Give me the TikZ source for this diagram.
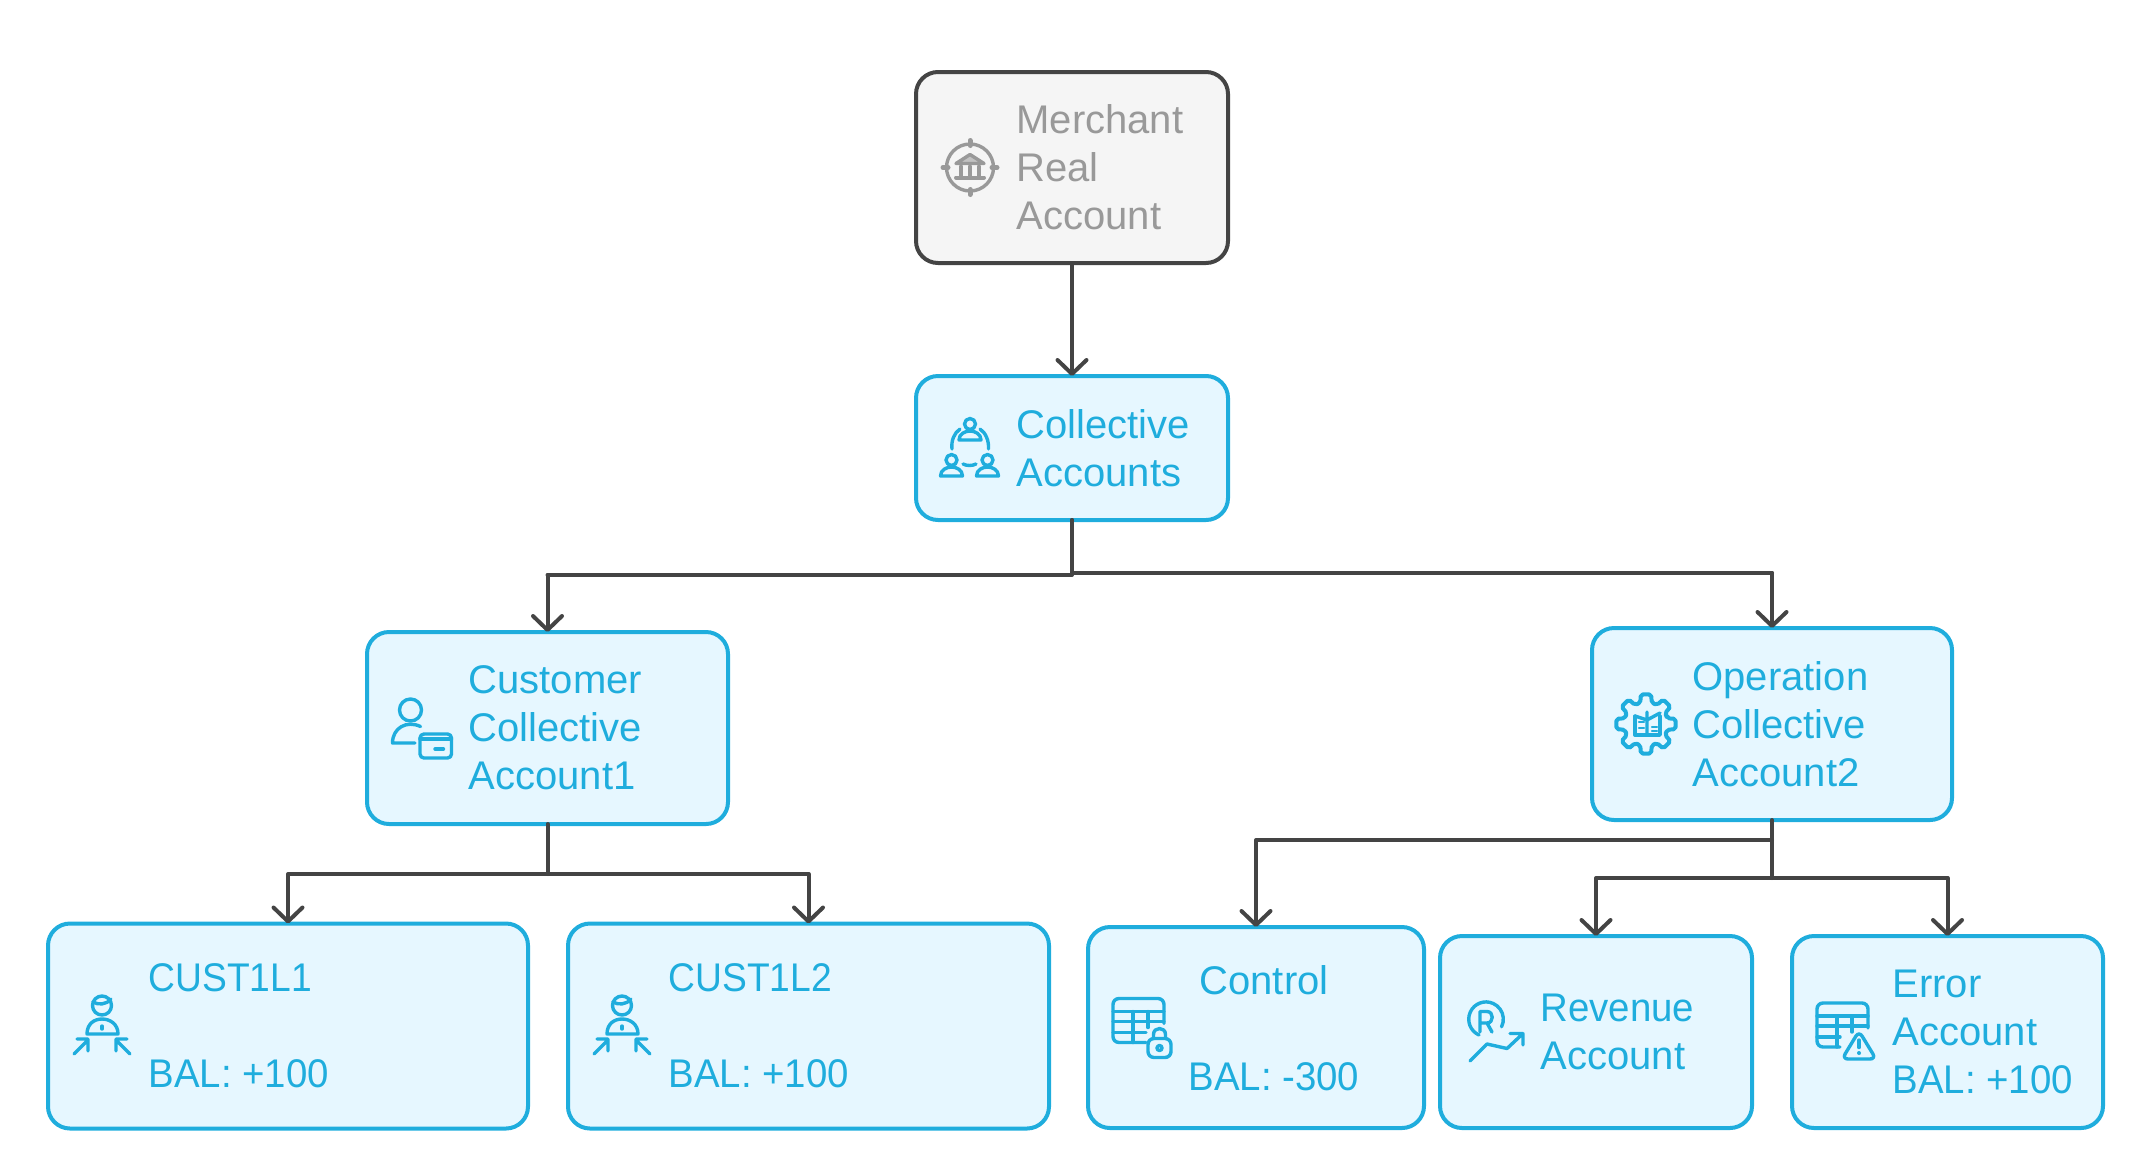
\documentclass[tikz,border=0pt]{standalone}
\usepackage{fontspec}
\setmainfont{Liberation Sans}
\newfontfamily\slimfont[FakeStretch=0.96]{Liberation Sans}
\newfontfamily\capsfont[FakeStretch=0.93]{Liberation Sans}
\usetikzlibrary{arrows.meta}
\usetikzlibrary{positioning}
\definecolor{acctblue}{HTML}{1FADDD}
\definecolor{acctfill}{HTML}{E6F7FF}
\definecolor{realgrey}{HTML}{999999}
\definecolor{realfill}{HTML}{F5F5F5}
\definecolor{linkgrey}{HTML}{444444}
\tikzset{
acctbox/.style = {rectangle, rounded corners=11pt, draw=acctblue, fill=acctfill,
                  line width=2pt, inner sep=0pt, outer sep=0pt},
realbox/.style = {acctbox, draw=linkgrey, fill=realfill},
accttext/.style = {align=left, inner sep=0pt, outer sep=0pt, text=acctblue, yshift=-3.6pt,
                   font=\fontsize{20}{24}\selectfont,
                   execute at begin node=\strut, execute at end node=\strut},
realtext/.style = {accttext, text=realgrey},
link/.style = {draw=linkgrey, line width=2pt, line cap=round, line join=round,
               -{Straight Barb[length=7pt,width=14.5pt,line width=2pt,round]}},
stub/.style = {draw=linkgrey, line width=2pt, line cap=round, line join=round},
iconline/.style = {draw=acctblue, line width=1.7pt, line cap=round, line join=round},
greyline/.style = {iconline, draw=realgrey},
}
% icons, drawn around their centre
\tikzset{
bankicon/.pic = {
    \draw[greyline] (0,0) circle (23.5);
    \draw[greyline, line width=2.5pt] (0,-27) -- (0,-22) (0,22) -- (0,27) (-27,0) -- (-22,0) (22,0) -- (27,0);
    \draw[greyline, fill=realgrey!60] (0,-13) -- (14,-4) -- (-14,-4) -- cycle;
    \draw[greyline, line width=2pt] (-9,-1) -- (-9,8) (0,-1) -- (0,8) (9,-1) -- (9,8);
    \draw[greyline, line width=2pt] (-14,10) -- (14,10);
},
dome/.pic = {
    \draw[iconline] (-11,0) .. controls (-11,-6) and (-5,-9) .. (0,-9)
                    .. controls (5,-9) and (11,-6) .. (11,0) -- cycle;
    \draw[iconline] (0,-16) circle (5.5);
},
groupicon/.pic = {
    \path (0,-8) pic {dome} (-18.5,28) pic {dome} (17.5,28) pic {dome};
    \draw[iconline] (-10,-19) .. controls (-16,-15) and (-19,-7) .. (-18,1);
    \draw[iconline] (10,-19) .. controls (16,-15) and (19,-7) .. (18.5,1);
    \draw[iconline] (-7,16) .. controls (-3,18) and (2,18) .. (6,16);
},
cardicon/.pic = {
    \draw[iconline] (-12,-18) circle (11);
    \draw[iconline] (-2,-1.5) .. controls (-16,-8) and (-30,0) .. (-30,15) -- (-7.5,15);
    \draw[iconline, rounded corners=2pt] (-2.5,6) rectangle (29,30);
    \draw[iconline] (-2.5,11) -- (29,11) (12.5,21) -- (21,21);
},
gearicon/.pic = {
    \draw[iconline, line width=2pt, rounded corners=1pt] (-15:22)
        \foreach \a in {0,45,...,315} { -- (\a-15:22) -- (\a-10:30) -- (\a+10:30) -- (\a+15:22) } -- cycle;
    \draw[iconline] (-11,-8) -- (-11,11) -- (14,11) -- (14,-8);
    \draw[iconline] (1,-12) -- (1,11) (-11,-8) -- (1,-4) (1,-4) -- (14,-11);
    \draw[iconline, line width=1.2pt] (-7,-2) -- (-2,-2) (-7,4) -- (-2,4) (6,3) -- (11,3) (6,7) -- (11,7);
},
agenticon/.pic = {
    \draw[iconline] (0,-20.5) circle (9.5);
    \draw[iconline] (-9,-24) .. controls (-4,-21) and (4,-21) .. (9,-27);
    \draw[iconline] (-15,8) .. controls (-15,-2) and (-8,-7) .. (0,-7)
                    .. controls (8,-7) and (16,-2) .. (16,8) -- cycle;
    \draw[iconline] (0,0) -- (0,3);
    \draw[iconline] (-28,28) -- (-14,14) (-25,13) -- (-14,13) -- (-14,25);
    \draw[iconline] (28,28) -- (14,14) (25,13) -- (14,13) -- (14,25);
},
tablebase/.pic = {
    \draw[iconline, rounded corners=3pt] (22,-4) -- (22,-29) -- (-29,-29) -- (-29,15) -- (#1,15);
    \draw[iconline] (-29,-16) -- (22,-16) (-29,-6) -- (22,-6) (-29,5) -- (#1,5);
    \draw[iconline] (-9,-16) -- (-9,15) (6,-16) -- (6,0);
},
lockicon/.pic = {
    \path (0,0) pic {tablebase=4};
    \draw[iconline, rounded corners=3pt] (6,11) rectangle (29,30);
    \draw[iconline] (11.5,11) -- (11.5,7) .. controls (11.5,-1) and (23.5,-1) .. (23.5,7) -- (23.5,11);
    \draw[iconline] (17.5,20.5) circle (2.5);
},
warnicon/.pic = {
    \path (0,0) pic {tablebase=-6};
    \draw[iconline, fill=acctfill, rounded corners=3pt] (13,-1) -- (30,27) -- (-4,27) -- cycle;
    \draw[iconline] (13,8) -- (13,15.5);
    \fill[acctblue] (13,21) circle (2);
},
revenueicon/.pic = {
    \draw[iconline] (-15,3) arc[start angle=246, end angle=-26, radius=8.65pt];
    \draw[iconline] (-14,0) -- (-14,-20.5) -- (-7,-20.5) .. controls (0,-20.5) and (0,-9) .. (-7,-9) -- (-14,-9) (-7,-9) -- (-2,0);
    \draw[iconline] (-24,29) -- (-7,12) -- (13,16.5) -- (29,1.5) (16,1.5) -- (29,1.5) -- (29,13);
},
}
\begin{document}
\begin{tikzpicture}[x=0.5pt, y=-0.5pt]
    \useasboundingbox (0,0) rectangle (2152,1152);

    \node[realbox, minimum width=156pt, minimum height=95.5pt] (merchant) at (1072,167.5) {};
    \node[acctbox, minimum width=156pt, minimum height=72pt, below=56.5pt of merchant] (collective) {};
    \node[acctbox, minimum width=180.5pt, minimum height=96pt] (customer) at (547.5,728) {};
    \node[acctbox, minimum width=180pt, minimum height=96pt] (operation) at (1772,724) {};
    \node[acctbox, minimum width=240pt, minimum height=102.5pt] (cust1) at (288,1026) {};
    \node[acctbox, minimum width=240.5pt, minimum height=102.5pt, right=20pt of cust1] (cust2) {};
    \node[acctbox, minimum width=168pt, minimum height=100.5pt] (control) at (1256,1027.5) {};
    \node[acctbox, minimum width=156pt, minimum height=96pt] (revenue) at (1596,1032) {};
    \node[acctbox, minimum width=155.5pt, minimum height=96pt] (error) at (1947.5,1032) {};

    \node[realtext, right=50.3pt of merchant.west] (merchanttext) {Merchant\\Real\\Account};
    \node[accttext, right=50.3pt of collective.west] (collectivetext) {Collective\\Accounts};
    \node[accttext, right=50.8pt of customer.west] (customertext) {Customer\\Collective\\Account1};
    \node[accttext, right=50.3pt of operation.west] (operationtext) {Operation\\Collective\\Account2};
    \node[accttext, right=50.3pt of cust1.west] (cust1text) {{\capsfont CUST1L1}\\ \\{\slimfont BAL: +100}};
    \node[accttext, right=50.3pt of cust2.west] (cust2text) {{\capsfont CUST1L2}\\ \\{\slimfont BAL: +100}};
    \node[accttext, right=50.3pt of control.west] (controltext) {\hspace*{5.5pt}Control\\ \\{\slimfont BAL: -300}};
    \node[accttext, right=50.3pt of revenue.west] (revenuetext) {{\slimfont Revenue}\\Account};
    \node[accttext, right=50.3pt of error.west] (errortext) {Error\\Account\\{\slimfont BAL: +100}};

    \path (merchant.west) ++(54,0) pic {bankicon};
    \path (collective.west) ++(54,0) pic {groupicon};
    \path (customer.west) ++(55.5,0) pic {cardicon};
    \path (operation.west) ++(54,0) pic {gearicon};
    \path (cust1.west) ++(54,0) pic {agenticon};
    \path (cust2.west) ++(54,0) pic {agenticon};
    \path (control.west) ++(54,0) pic {lockicon};
    \path (revenue.west) ++(54,0) pic {revenueicon};
    \path (error.west) ++(54,0) pic {warnicon};

    \coordinate (busleft) at (547.5,575);
    \coordinate (busright) at (1772,573);
    \coordinate (custbus) at (547.5,874);
    \coordinate (opbusup) at (1772,840);
    \coordinate (opbusdown) at (1772,878);

    \draw[link] (merchant.south) -- (collective.north);
    \draw[stub] (collective.south) |- (busleft);
    \draw[stub] (collective.south) |- (busright);
    \draw[link] (busleft) -- (customer.north);
    \draw[link] (busright) -- (operation.north);
    \draw[stub] (customer.south) -- (custbus);
    \draw[link] (custbus) -| (cust1.north);
    \draw[link] (custbus) -| (cust2.north);
    \draw[stub] (operation.south) -- (opbusdown);
    \draw[link] (opbusup) -| (control.north);
    \draw[link] (opbusdown) -| (revenue.north);
    \draw[link] (opbusdown) -| (error.north);
\end{tikzpicture}
\end{document}
